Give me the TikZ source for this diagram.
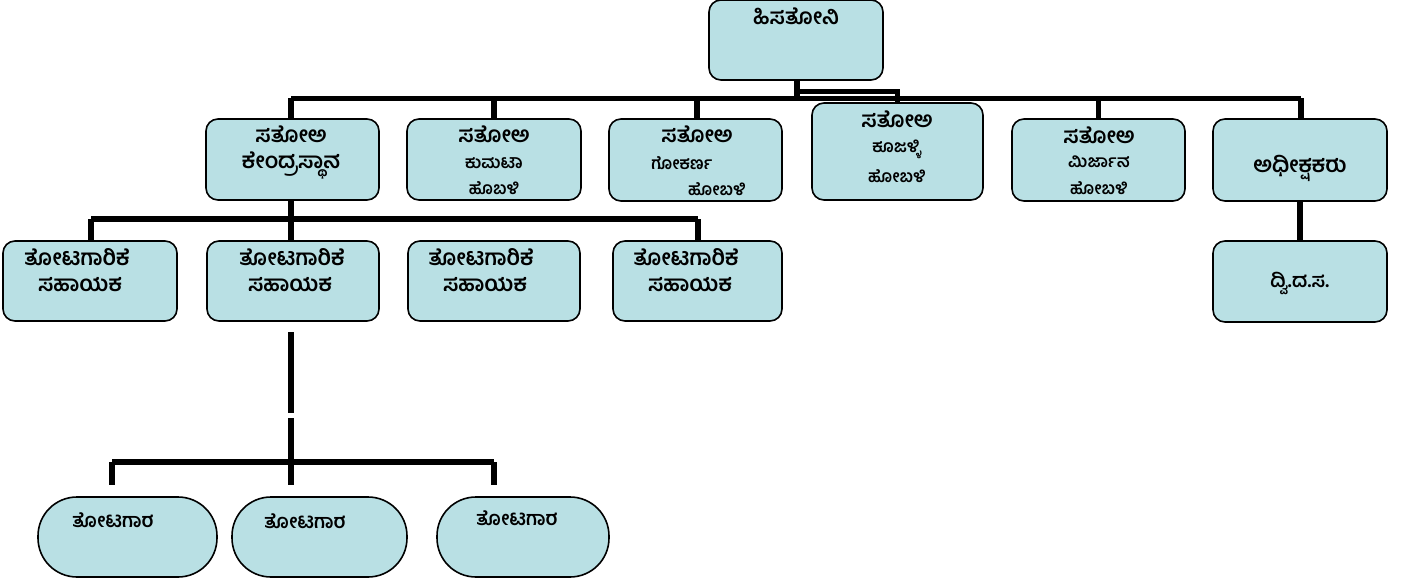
\documentclass[tikz,border=0pt]{standalone}
\usepackage{fontspec}
\newfontfamily\kn[Script=Kannada]{Hind Mysuru}
\definecolor{boxfill}{RGB}{185,224,228}
\begin{document}
\begin{tikzpicture}[x=1pt,y=-1pt,
  box/.style={draw=black,line width=1.6pt,fill=boxfill,rounded corners=12pt,inner sep=0pt},
  pill/.style={draw=black,line width=1.6pt,fill=boxfill,rounded corners=39pt,inner sep=0pt,minimum width=175pt,minimum height=80pt},
  conn/.style={draw=black,line width=5.5pt},
  big/.style={font=\kn\bfseries\fontsize{22}{24}\selectfont,inner sep=0pt},
  mid/.style={font=\kn\bfseries\fontsize{22}{24}\selectfont,inner sep=0pt},
  lvl/.style={font=\kn\bfseries\fontsize{19.5}{22}\selectfont,inner sep=0pt},
  sml/.style={font=\kn\bfseries\fontsize{17}{19}\selectfont,inner sep=0pt}]
\useasboundingbox (0,0) rectangle (1405,583);
% boxes
\node[box,minimum width=174pt,minimum height=80pt] (top) at (796,40) {};
\node[box,minimum width=173pt,minimum height=81pt] (c1) at (292.5,159.5) {};
\node[box,minimum width=174pt,minimum height=81pt] (c2) at (494,159.5) {};
\node[box,minimum width=173pt,minimum height=82pt] (c3) at (695.5,160) {};
\node[box,minimum width=171pt,minimum height=97pt] (c4) at (897.5,151.5) {};
\node[box,minimum width=173pt,minimum height=82pt] (c5) at (1098.5,160) {};
\node[box,minimum width=174pt,minimum height=82pt] (c6) at (1300,160) {};
\node[box,minimum width=174pt,minimum height=81pt] (d1) at (1300,281.5) {};
\node[box,minimum width=174pt,minimum height=80pt] (n1) at (90,281) {};
\node[box,minimum width=172pt,minimum height=80pt] (n2) at (293,281) {};
\node[box,minimum width=172pt,minimum height=80pt] (n3) at (494,281) {};
\node[box,minimum width=169pt,minimum height=80pt] (n4) at (697.5,281) {};
\node[pill,minimum width=179pt] (p1) at (127.5,537) {};
\node[pill] (p2) at (319.5,537) {};
\node[pill,minimum width=172pt] (p3) at (523,537) {};
% texts
\node[big] (t0) at (796,16) {ಹಿಸತೋನಿ};
\node[big] (t1a) at (291,134) {ಸತೋಅ};
\node[big] (t1b) at (291,165) {ಕೇಂದ್ರಸ್ಥಾನ};
\node[big] (t2a) at (494,134) {ಸತೋಅ};
\node[sml] (t2b) at (494,163) {ಕುಮಟಾ};
\node[sml] (t2c) at (494,188) {ಹೊಬಳಿ};
\node[big] (t3a) at (697,134) {ಸತೋಅ};
\node[sml] (t3b) at (682,163) {ಗೋಕರ್ಣ};
\node[sml] (t3c) at (717,189) {ಹೋಬಳಿ};
\node[big] (t4a) at (897,119) {ಸತೋಅ};
\node[sml] (t4b) at (897,149) {ಕೂಜಳ್ಳಿ};
\node[sml] (t4c) at (897,176) {ಹೋಬಳಿ};
\node[big] (t5a) at (1099,135) {ಸತೋಅ};
\node[sml] (t5b) at (1099,162) {ಮಿರ್ಜಾನ};
\node[sml] (t5c) at (1099,188) {ಹೋಬಳಿ};
\node[big] (t6) at (1300,168) {ಅಧೀಕ್ಷಕರು};
\node[lvl] (t7) at (1300,283) {ದ್ವಿ.ದ.ಸ.};
\node[mid] (s1a) at (77,257) {ತೋಟಗಾರಿಕೆ};
\node[mid] (s1b) at (80,285) {ಸಹಾಯಕ};
\node[mid] (s2a) at (292,257) {ತೋಟಗಾರಿಕೆ};
\node[mid] (s2b) at (290,285) {ಸಹಾಯಕ};
\node[mid] (s3a) at (481,257) {ತೋಟಗಾರಿಕೆ};
\node[mid] (s3b) at (485,285) {ಸಹಾಯಕ};
\node[mid] (s4a) at (686,257) {ತೋಟಗಾರಿಕೆ};
\node[mid] (s4b) at (690,285) {ಸಹಾಯಕ};
\node[lvl] (q1) at (113,520) {ತೋಟಗಾರ};
\node[lvl] (q2) at (305,521) {ತೋಟಗಾರ};
\node[lvl] (q3) at (517,518) {ತೋಟಗಾರ};
% connectors level 1
\coordinate (busL) at (291,98.5);
\coordinate (busR) at (1301,98.5);
\coordinate (tp) at (797,80);
\draw[conn] (tp) -- (tp |- busL);
\draw[conn] (busL) -- (busR);
\draw[conn] (tp |- 0,91.5) -| (c4.north);
\draw[conn] (busL) -- (busL |- c1.north);
\draw[conn] (busL -| c2.north) -- (c2.north);
\draw[conn] (busL -| 697,0) -- (697,119);
\draw[conn] (busL -| c5.north) -- (c5.north);
\draw[conn] (busR) -- (busR |- c6.north);
\draw[conn] (c6.south) -- (d1.north);
% level 2
\coordinate (mL) at (91,219);
\coordinate (mR) at (698,219);
\draw[conn] (291,200) -- (291,241);
\draw[conn] (mL) -- (mR);
\draw[conn] (mL) -- (mL |- n1.north);
\draw[conn] (mR) -- (mR |- n4.north);
% level 3
\coordinate (v1) at (291,332);
\coordinate (v2) at (291,413);
\coordinate (v3) at (291,418);
\coordinate (v4) at (291,485);
\coordinate (lL) at (112,462);
\coordinate (lR) at (494,462);
\draw[conn] (v1) -- (v2);
\draw[conn] (v3) -- (v4);
\draw[conn] (lL) -- (lR);
\draw[conn] (lL) -- (lL |- v4);
\draw[conn] (lR) -- (lR |- v4);
\end{tikzpicture}
\end{document}
